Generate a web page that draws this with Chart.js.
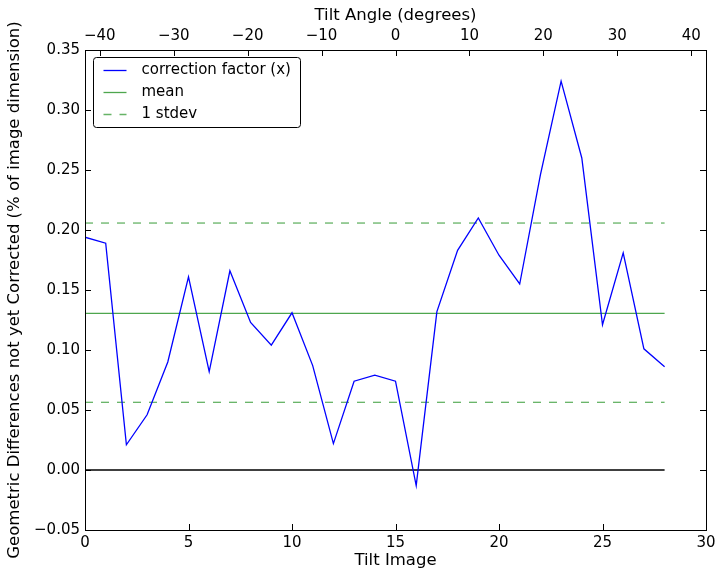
<!DOCTYPE html>
<html>
<head>
<meta charset="utf-8">
<script src="https://cdn.jsdelivr.net/npm/chart.js@4.4.0/dist/chart.umd.min.js"></script>
<style>
  body { margin: 0; background: #fff; }
</style>
</head>
<body>
<canvas id="tiltChart" width="724" height="579"></canvas>
<script>
// data
const tiltImages = [0, 1, 2, 3, 4, 5, 6, 7, 8, 9, 10, 11, 12, 13, 14, 15, 16, 17, 18, 19, 20, 21, 22, 23, 24, 25, 26, 27, 28];
const correctionFactor = [0.194, 0.189, 0.021, 0.046, 0.090, 0.161, 0.082, 0.166, 0.123, 0.104, 0.131, 0.087, 0.022, 0.074, 0.079, 0.074, -0.013, 0.132, 0.183, 0.210, 0.179, 0.155, 0.246, 0.324, 0.260, 0.121, 0.181, 0.101, 0.086];
const meanValue = 0.1306;
const stdevUpper = 0.2058;
const stdevLower = 0.0564;
const zeroValue = 0;

const xTicks = [0, 5, 10, 15, 20, 25, 30];
const angleTicks = [-40, -30, -20, -10, 0, 10, 20, 30, 40];
const yTicks = [-0.05, 0.00, 0.05, 0.10, 0.15, 0.20, 0.25, 0.30, 0.35];
const angleRange = [-42, 42];

const fontFamily = "'DejaVu Sans', sans-serif";
const tickFont = { family: fontFamily, size: 15 };
const labelFont = { family: fontFamily, size: 16.5 };
const meanGreen = '#4ea64e';
const dashGreen = '#66b366';

function minus(str) {
  return String(str).replace('-', '\u2212');
}

function flatLine(value) {
  return [
    { x: tiltImages[0], y: value },
    { x: tiltImages[tiltImages.length - 1], y: value }
  ];
}

// inward ticks, frame and the legend box, like the matplotlib original
const frameAndLegend = {
  id: 'frameAndLegend',
  afterDraw(chart) {
    const ctx = chart.ctx;
    const area = chart.chartArea;
    const xs = chart.scales.x;
    const xt = chart.scales.x2;
    const ys = chart.scales.y;
    const len = 6;

    ctx.save();
    ctx.strokeStyle = '#000';
    ctx.lineWidth = 1;
    ctx.beginPath();
    xTicks.forEach(v => {
      const px = Math.round(xs.getPixelForValue(v)) + 0.5;
      ctx.moveTo(px, area.bottom);
      ctx.lineTo(px, area.bottom - len);
    });
    angleTicks.forEach(v => {
      const px = Math.round(xt.getPixelForValue(v)) + 0.5;
      ctx.moveTo(px, area.top);
      ctx.lineTo(px, area.top + len);
    });
    yTicks.forEach(v => {
      const py = Math.round(ys.getPixelForValue(v)) + 0.5;
      ctx.moveTo(area.left, py);
      ctx.lineTo(area.left + len, py);
      ctx.moveTo(area.right, py);
      ctx.lineTo(area.right - len, py);
    });
    ctx.stroke();

    ctx.strokeRect(Math.round(area.left) + 0.5, Math.round(area.top) + 0.5,
      Math.round(area.right - area.left), Math.round(area.bottom - area.top));

    // legend
    const lx = area.left + 8.5;
    const ly = area.top + 7.5;
    const lw = 207;
    const lh = 70;
    ctx.beginPath();
    ctx.roundRect(lx, ly, lw, lh, 3);
    ctx.fillStyle = '#fff';
    ctx.fill();
    ctx.stroke();

    const items = chart.data.datasets.filter(d => d.legend);
    ctx.font = '15px ' + fontFamily;
    ctx.textBaseline = 'middle';
    items.forEach((d, i) => {
      const y = ly + 13 + i * 22;
      ctx.beginPath();
      ctx.strokeStyle = d.borderColor;
      ctx.lineWidth = d.borderWidth;
      ctx.setLineDash(d.borderDash || []);
      ctx.moveTo(lx + 10, y);
      ctx.lineTo(lx + 33, y);
      ctx.stroke();
      ctx.setLineDash([]);
      ctx.fillStyle = '#000';
      ctx.fillText(d.label, lx + 48, y);
    });
    ctx.restore();
  }
};

const ctx = document.getElementById('tiltChart').getContext('2d');
new Chart(ctx, {
  type: 'line',
  data: {
    datasets: [
      {
        label: 'correction factor (x)',
        legend: true,
        data: tiltImages.map((x, i) => ({ x: x, y: correctionFactor[i] })),
        borderColor: '#0000ff',
        borderWidth: 1.3,
        pointRadius: 0,
        tension: 0
      },
      {
        label: 'mean',
        legend: true,
        data: flatLine(meanValue),
        borderColor: meanGreen,
        borderWidth: 1.3,
        pointRadius: 0
      },
      {
        label: '1 stdev',
        legend: true,
        data: flatLine(stdevUpper),
        borderColor: dashGreen,
        borderWidth: 1.3,
        borderDash: [8, 8],
        pointRadius: 0
      },
      {
        label: 'lower',
        data: flatLine(stdevLower),
        borderColor: dashGreen,
        borderWidth: 1.3,
        borderDash: [8, 8],
        pointRadius: 0
      },
      {
        label: 'zero',
        data: flatLine(zeroValue),
        borderColor: '#000',
        borderWidth: 1.3,
        pointRadius: 0
      }
    ]
  },
  options: {
    responsive: false,
    animation: false,
    layout: { padding: { right: 18 } },
    plugins: {
      legend: { display: false },
      tooltip: { enabled: false }
    },
    scales: {
      x: {
        type: 'linear',
        position: 'bottom',
        min: 0,
        max: 30,
        afterBuildTicks: s => { s.ticks = xTicks.map(v => ({ value: v })); },
        afterFit: s => { s.height = 49; },
        grid: { display: false, drawTicks: false },
        border: { display: false },
        ticks: { font: tickFont, color: '#000', padding: 4, maxRotation: 0 },
        title: { display: true, text: 'Tilt Image', font: labelFont, color: '#000', padding: { top: 0, bottom: 8 } }
      },
      x2: {
        type: 'linear',
        axis: 'x',
        position: 'top',
        min: angleRange[0],
        max: angleRange[1],
        afterBuildTicks: s => { s.ticks = angleTicks.map(v => ({ value: v })); },
        afterFit: s => { s.height = 50; },
        grid: { display: false, drawTicks: false },
        border: { display: false },
        ticks: { font: tickFont, color: '#000', padding: 5, maxRotation: 0, callback: v => minus(v) },
        title: { display: true, text: 'Tilt Angle (degrees)', font: labelFont, color: '#000', padding: { top: 6, bottom: 0 } }
      },
      y: {
        type: 'linear',
        position: 'left',
        min: yTicks[0],
        max: yTicks[yTicks.length - 1],
        afterBuildTicks: s => { s.ticks = yTicks.map(v => ({ value: v })); },
        afterFit: s => { s.width = 85; },
        grid: { display: false, drawTicks: false },
        border: { display: false },
        ticks: { font: tickFont, color: '#000', padding: 5, callback: v => minus(v.toFixed(2)) },
        title: { display: true, text: 'Geometric Differences not yet Corrected (% of image dimension)', font: labelFont, color: '#000', padding: { top: 5, bottom: 0 } }
      }
    }
  },
  plugins: [frameAndLegend]
});
</script>
</body>
</html>
